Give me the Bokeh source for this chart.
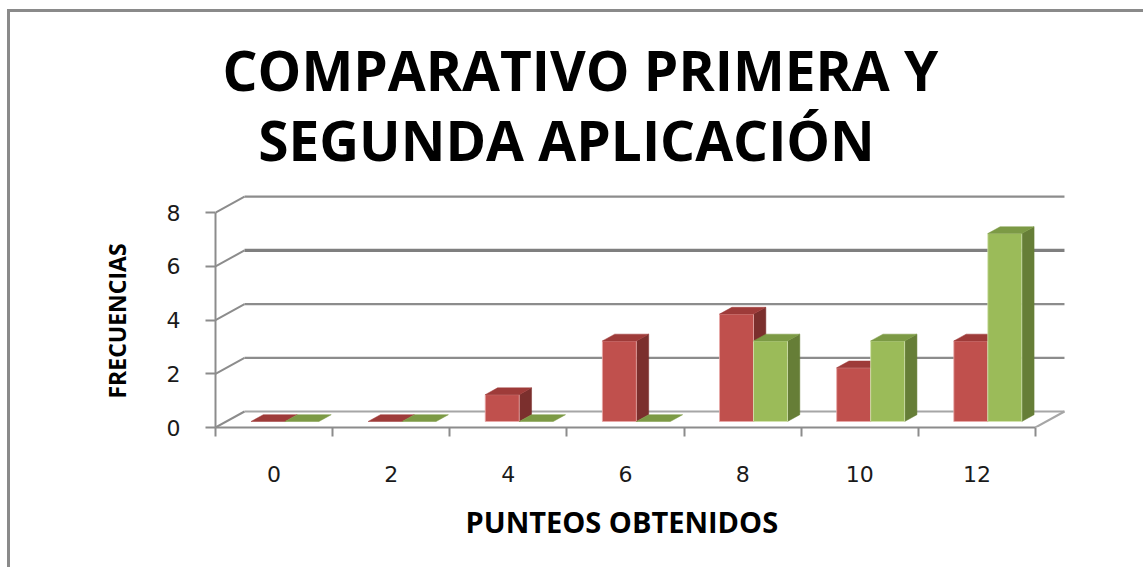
from bokeh.plotting import figure
from bokeh.models import Range1d, FixedTicker, Label, LinearAxis, Title
from bokeh.embed import file_html
from bokeh.resources import INLINE

# ---------------- data ----------------
categories = ["0", "2", "4", "6", "8", "10", "12"]
primera = [0, 0, 1, 3, 4, 2, 3]
segunda = [0, 0, 0, 0, 3, 3, 7]
y_ticks = [0, 2, 4, 6, 8]
title_lines = ["COMPARATIVO PRIMERA Y", "SEGUNDA APLICACIÓN"]
x_title = "PUNTEOS OBTENIDOS"
y_title = "FRECUENCIAS"

# ---------------- layout constants ----------------
ORG_X, ORG_Y = 10, 12          # canvas origin on the page (margin + border)
FRAME_L, FRAME_B = 215, 427    # page pixel of front-left-bottom corner
W, H = 1136, 558
ML = FRAME_L - ORG_X
frame_h = FRAME_B - ORG_Y
MB = H - frame_h
PX_CAT = 117.14          # pixels per category
PX_VAL = 26.85           # pixels per unit value
DEPTH_PX_X, DEPTH_PX_Y = 29.0, 16.0
DXZ = DEPTH_PX_X / PX_CAT
DYZ = DEPTH_PX_Y / PX_VAL
frame_w = W - ML
x0r = -0.5
x1r = x0r + frame_w / PX_CAT
y0r = 0.0
y1r = frame_h / PX_VAL

RED_FRONT, RED_TOP, RED_SIDE = "#C0504D", "#9E3B39", "#7B2F2D"
GRN_FRONT, GRN_TOP, GRN_SIDE = "#9BBB59", "#7C9A45", "#667E37"
GRID = "#8C8C8C"

p = figure(width=W, height=H, output_backend="svg", toolbar_location=None,
           x_range=Range1d(x0r, x1r), y_range=Range1d(y0r, y1r),
           min_border_left=ML, min_border_right=0, min_border_top=0,
           min_border_bottom=MB, x_axis_type=None, y_axis_type=None)
p.outline_line_color = None
p.xgrid.visible = False
p.ygrid.visible = False
p.margin = (9, 0, 0, 7)
p.styles = {"border-top": "3px solid #8A8A8A", "border-left": "3px solid #8A8A8A"}

n = len(categories)
xl, xr = -0.5, n - 0.5


def proj(x, y, z):
    return x + z * DXZ, y + z * DYZ

# back wall gridlines + left wall diagonals
for v in y_ticks:
    bx0, by0 = proj(xl, v, 1.0)
    bx1, by1 = proj(xr, v, 1.0)
    lw = 3.2 if v == 6 else 2.2
    col = "#7F7F7F" if v == 6 else GRID
    if v == 0:
        col = "#A6A6A6"
    p.line([bx0, bx1], [by0, by1], line_color=col, line_width=lw)
    p.line([xl, bx0], [v, by0], line_color=GRID, line_width=2)

# floor right edge
fx, fy = proj(xr, 0, 1.0)
p.line([xr, fx], [0, fy], line_color="#A6A6A6", line_width=2)

# bars
BW = 0.29
Z0, Z1 = 0.375, 0.8


def bar(xa, xb, h, cf, ct, cs):
    if h > 0:
        fxs = [proj(xa, 0, Z0)[0], proj(xb, 0, Z0)[0], proj(xb, h, Z0)[0], proj(xa, h, Z0)[0]]
        fys = [proj(xa, 0, Z0)[1], proj(xb, 0, Z0)[1], proj(xb, h, Z0)[1], proj(xa, h, Z0)[1]]
        sxs = [proj(xb, 0, Z0)[0], proj(xb, 0, Z1)[0], proj(xb, h, Z1)[0], proj(xb, h, Z0)[0]]
        sys_ = [proj(xb, 0, Z0)[1], proj(xb, 0, Z1)[1], proj(xb, h, Z1)[1], proj(xb, h, Z0)[1]]
        p.patch(sxs, sys_, fill_color=cs, line_color=cs, line_width=0.5)
        p.patch(fxs, fys, fill_color=cf, line_color="#E8A9A7" if cf == RED_FRONT else "#D3E3B0",
                line_width=1, line_alpha=0.8)
    txs = [proj(xa, h, Z0)[0], proj(xb, h, Z0)[0], proj(xb, h, Z1)[0], proj(xa, h, Z1)[0]]
    tys = [proj(xa, h, Z0)[1], proj(xb, h, Z0)[1], proj(xb, h, Z1)[1], proj(xa, h, Z1)[1]]
    p.patch(txs, tys, fill_color=ct, line_color=ct, line_width=0.5)


for i in range(n):
    bar(i - BW, i, primera[i], RED_FRONT, RED_TOP, RED_SIDE)
    bar(i, i + BW, segunda[i], GRN_FRONT, GRN_TOP, GRN_SIDE)

# axes
xaxis = LinearAxis(bounds=(xl, xr))
xaxis.ticker = FixedTicker(ticks=list(range(n)), minor_ticks=[i - 0.5 for i in range(n + 1)])
xaxis.major_label_overrides = {i: c for i, c in enumerate(categories)}
xaxis.major_tick_out = 0
xaxis.major_tick_in = 0
xaxis.minor_tick_out = 9
xaxis.minor_tick_in = 0
xaxis.minor_tick_line_color = GRID
xaxis.minor_tick_line_width = 2
xaxis.axis_line_color = GRID
xaxis.axis_line_width = 2
xaxis.major_label_standoff = 29
xaxis.major_label_text_font = "DejaVu Sans"
xaxis.major_label_text_font_size = "22px"
xaxis.major_label_text_color = "#1a1a1a"
p.add_layout(xaxis, "below")

yaxis = LinearAxis(bounds=(0, 8))
yaxis.ticker = FixedTicker(ticks=y_ticks, minor_ticks=[])
yaxis.major_tick_out = 10
yaxis.major_tick_in = 0
yaxis.major_tick_line_color = GRID
yaxis.major_tick_line_width = 2
yaxis.axis_line_color = GRID
yaxis.axis_line_width = 2
yaxis.major_label_standoff = 25
yaxis.major_label_text_font = "DejaVu Sans"
yaxis.major_label_text_font_size = "22px"
yaxis.major_label_text_color = "#1a1a1a"
p.add_layout(yaxis, "left")

# axis titles as side-panel titles (offset is measured from the frame's left / bottom edge)
p.add_layout(Title(text=x_title, align="left", offset=465 - FRAME_L, standoff=31,
                   text_font="Open Sans", text_font_style="bold", text_font_size="29px",
                   text_color="black"), "below")
p.add_layout(Title(text=y_title, align="left", offset=FRAME_B - 398, standoff=62,
                   text_font="Open Sans", text_font_style="bold", text_font_size="23px",
                   text_color="black"), "left")


def to_x(px):
    return (px - FRAME_L) / PX_CAT - 0.5


def to_y(py):
    return (FRAME_B - py) / PX_VAL


p.add_layout(Label(x=to_x(580), y=to_y(69), text=title_lines[0], text_align="center",
                   text_baseline="middle", text_font="Open Sans", text_font_style="bold",
                   text_font_size="55px", text_color="black"))
p.add_layout(Label(x=to_x(566), y=to_y(139), text=title_lines[1], text_align="center",
                   text_baseline="middle", text_font="Open Sans", text_font_style="bold",
                   text_font_size="55px", text_color="black"))

open("out.html", "w").write(file_html(p, INLINE))
